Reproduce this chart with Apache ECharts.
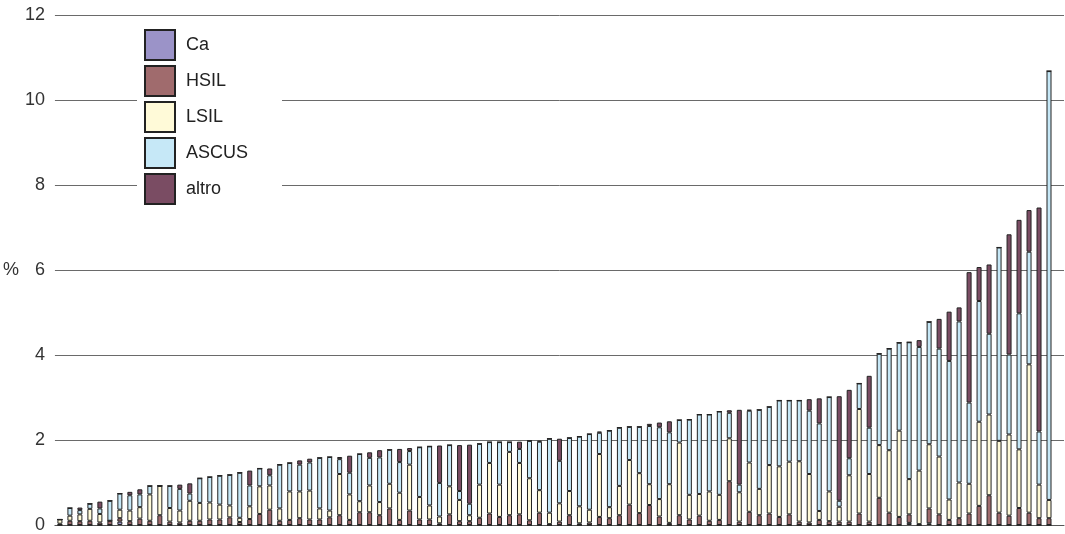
<!DOCTYPE html>
<html>
<head>
<meta charset="utf-8">
<script src="https://cdn.jsdelivr.net/npm/echarts@6/dist/echarts.min.js"></script>
<style>
  html, body { margin: 0; padding: 0; background: #fff; overflow: hidden; }
  #chart { width: 1065px; height: 534px; }
</style>
</head>
<body>
<div id="chart"></div>
<script>
// Cytology results per centre (%), one stacked bar per centre, sorted by total
const seriesNames = ['Ca', 'HSIL', 'LSIL', 'ASCUS', 'altro'];
const yTicks = { min: 0, max: 12, interval: 2 };

const ca = [
  0, 0, 0, 0, 0, 0, 0.08, 0, 0, 0,
  0, 0, 0, 0, 0, 0, 0, 0, 0, 0,
  0, 0, 0, 0, 0, 0, 0, 0, 0, 0,
  0, 0, 0, 0, 0, 0, 0, 0, 0, 0,
  0, 0, 0, 0, 0, 0, 0, 0, 0, 0,
  0, 0, 0, 0, 0, 0, 0, 0, 0, 0,
  0, 0, 0, 0, 0, 0, 0, 0, 0, 0,
  0, 0, 0, 0, 0, 0, 0, 0, 0, 0,
  0, 0, 0, 0, 0, 0.05, 0, 0.04, 0, 0,
  0, 0, 0, 0, 0, 0, 0, 0, 0, 0
];
const hsil = [
  0.03, 0.10, 0.09, 0.10, 0.06, 0.10, 0.08, 0.09, 0.15, 0.10,
  0.23, 0.08, 0.06, 0.10, 0.10, 0.13, 0.13, 0.18, 0.07, 0.14,
  0.26, 0.36, 0.10, 0.12, 0.16, 0.13, 0.13, 0.18, 0.23, 0.12,
  0.30, 0.30, 0.23, 0.39, 0.12, 0.34, 0.13, 0.13, 0.04, 0.25,
  0.09, 0.09, 0.17, 0.27, 0.19, 0.23, 0.25, 0.11, 0.29, 0.02,
  0.08, 0.23, 0.04, 0.06, 0.19, 0.16, 0.23, 0.48, 0.28, 0.47,
  0.20, 0.05, 0.23, 0.13, 0.22, 0.10, 0.12, 1.03, 0.08, 0.31,
  0.23, 0.27, 0.19, 0.25, 0.08, 0.06, 0.12, 0.09, 0.08, 0.08,
  0.27, 0.08, 0.64, 0.29, 0.19, 0.20, 0.02, 0.35, 0.25, 0.12,
  0.16, 0.27, 0.45, 0.70, 0.29, 0.22, 0.40, 0.29, 0.16, 0.16
];
const lsil = [
  0.10, 0.12, 0.16, 0.28, 0.20, 0, 0.20, 0.25, 0.27, 0.62,
  0.69, 0.32, 0.28, 0.47, 0.42, 0.40, 0.35, 0.28, 0.10, 0.30,
  0.65, 0.57, 0.29, 0.67, 0.63, 0.68, 0.26, 0.16, 0.97, 0.60,
  0.26, 0.63, 0.31, 0.58, 0.64, 1.08, 0.53, 0.33, 0.16, 0.66,
  0.50, 0.14, 0.78, 1.19, 0.76, 1.49, 1.21, 0.99, 0.53, 0.27,
  0.43, 0.57, 0.40, 0.30, 1.48, 0.26, 0.69, 1.05, 0.94, 0.49,
  0.41, 0.91, 1.71, 0.58, 0.51, 0.69, 0.59, 1.01, 0.69, 1.16,
  0.62, 1.14, 1.19, 1.24, 1.42, 1.14, 0.21, 0.70, 0.35, 1.09,
  2.46, 1.12, 1.24, 1.47, 2.03, 0.83, 1.26, 1.51, 1.36, 0.48,
  0.84, 0.70, 1.98, 1.90, 1.69, 1.91, 1.38, 3.49, 0.79, 0.43
];
const ascus = [
  0, 0.18, 0.10, 0.12, 0.13, 0.47, 0.38, 0.36, 0.30, 0.20,
  0, 0.52, 0.51, 0.17, 0.58, 0.60, 0.68, 0.72, 1.06, 0.49,
  0.42, 0.24, 1.03, 0.67, 0.63, 0.66, 1.19, 1.26, 0.35, 0.51,
  1.11, 0.65, 1.05, 0.80, 0.72, 0.32, 1.17, 1.39, 0.79, 0.97,
  0.21, 0.27, 0.96, 0.49, 1.00, 0.23, 0.33, 0.88, 1.14, 1.74,
  1.00, 1.25, 1.64, 1.78, 0.50, 1.80, 1.37, 0.78, 1.09, 1.37,
  1.69, 1.22, 0.53, 1.77, 1.87, 1.81, 1.96, 0.60, 0.18, 1.22,
  1.86, 1.37, 1.55, 1.44, 1.43, 1.49, 2.06, 2.22, 0.14, 0.40,
  0.60, 1.09, 2.15, 2.39, 2.07, 3.22, 2.91, 2.88, 2.54, 3.26,
  3.79, 1.91, 2.84, 1.90, 4.55, 1.88, 3.20, 2.65, 1.25, 10.09
];
const altro = [
  0, 0, 0.06, 0, 0.16, 0, 0, 0.08, 0.12, 0,
  0, 0, 0.10, 0.24, 0, 0, 0, 0, 0, 0.35,
  0, 0.16, 0, 0, 0.10, 0.09, 0, 0, 0.05, 0.40,
  0, 0.13, 0.17, 0, 0.31, 0.07, 0, 0, 0.88, 0,
  1.08, 1.39, 0, 0, 0, 0, 0.17, 0, 0.02, 0,
  0.52, 0, 0, 0, 0.03, 0, 0, 0, 0, 0.05,
  0.11, 0.26, 0, 0, 0, 0, 0, 0.06, 1.76, 0.02,
  0, 0, 0, 0, 0, 0.27, 0.59, 0, 2.46, 1.61,
  0, 1.22, 0, 0, 0, 0, 0.16, 0, 0.70, 1.16,
  0.33, 3.07, 0.80, 1.63, 0, 2.83, 2.20, 0.98, 5.27, 0
];

// one category per centre; the ids themselves are not drawn
const categories = ca.map((_, i) => String(i + 1));

const colors = {
  Ca: '#9b93c8',
  HSIL: '#a06b6d',
  LSIL: '#fffad8',
  ASCUS: '#c6e8f7',
  altro: '#7a4c63'
};
const values = { Ca: ca, HSIL: hsil, LSIL: lsil, ASCUS: ascus, altro: altro };

const FONT = '"Liberation Sans", Arial, Helvetica, sans-serif';

const chart = echarts.init(document.getElementById('chart'), null, { renderer: 'canvas' });

chart.setOption({
  animation: false,
  backgroundColor: '#ffffff',
  textStyle: { fontFamily: FONT },
  grid: { left: 52, width: 1012, top: 15, height: 515, containLabel: false },
  legend: {
    orient: 'vertical',
    left: 137,
    top: 24,
    data: seriesNames,
    icon: 'rect',
    itemWidth: 30,
    itemHeight: 30,
    itemGap: 4,
    padding: [5, 34, 5, 7],
    backgroundColor: '#ffffff',
    textStyle: { fontFamily: FONT, fontSize: 18, color: '#222', padding: [0, 0, 0, 6] }
  },
  xAxis: {
    type: 'category',
    data: categories,
    max: categories.length,
    boundaryGap: true,
    axisLine: { show: true, lineStyle: { color: '#555', width: 1 } },
    axisTick: { show: false },
    axisLabel: { show: false },
    splitLine: { show: false }
  },
  yAxis: {
    type: 'value',
    min: yTicks.min,
    max: yTicks.max,
    interval: yTicks.interval,
    name: '%',
    nameLocation: 'middle',
    nameRotate: 0,
    nameGap: 28,
    nameTextStyle: { fontFamily: FONT, fontSize: 18, color: '#333', align: 'right' },
    axisLine: { show: false },
    axisTick: { show: false },
    axisLabel: { fontFamily: FONT, fontSize: 18, color: '#333', margin: 10 },
    splitLine: { show: true, lineStyle: { color: '#6a6a6a', width: 1 } }
  },
  series: seriesNames.map(name => ({
    name: name,
    type: 'bar',
    stack: 'total',
    barWidth: 5,
    data: values[name],
    itemStyle: {
      color: colors[name],
      borderColor: '#222222',
      borderWidth: 1
    },
    emphasis: { disabled: true }
  }))
});
</script>
</body>
</html>
